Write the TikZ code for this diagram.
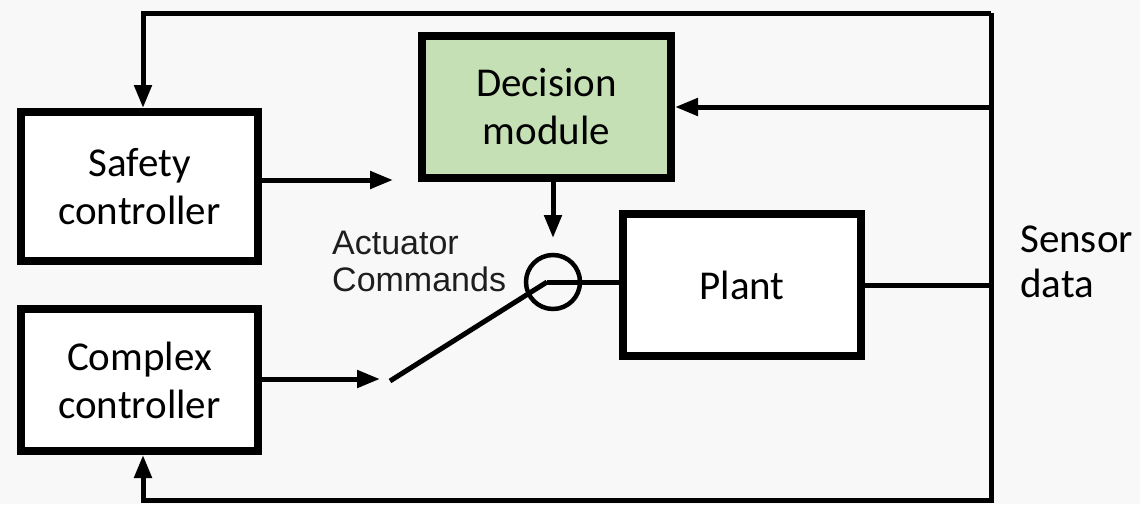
\documentclass[tikz,border=0pt]{standalone}
\usepackage{fontspec}
\setmainfont{Carlito}
\newfontfamily\arialfont{Liberation Sans}
\usetikzlibrary{arrows.meta}
\definecolor{bgcol}{RGB}{248,248,248}
\definecolor{modgreen}{RGB}{197,224,180}
\definecolor{labelgray}{RGB}{30,30,30}
\tikzset{
  block/.style={draw=black, line width=8pt, fill=white, align=center,
    font=\fontsize{41}{48}\selectfont},
  wire/.style={line width=5pt, line join=miter},
  flow/.style={wire, -{Triangle[length=23pt,width=17pt]}},
}
\begin{document}
\begin{tikzpicture}[x=1pt, y=-1pt]
  % canvas
  \fill[bgcol] (0,0) rectangle (1140,504);
  \useasboundingbox (0,0) rectangle (1140,504);

  % blocks
  \node[block, minimum width=237pt, minimum height=149pt] (safety) at (139.5,186.5) {Safety\\controller};
  \node[block, minimum width=237pt, minimum height=142pt] (complex) at (139.5,380) {Complex\\controller};
  \node[block, fill=modgreen, minimum width=249pt, minimum height=142pt] (decision) at (546.5,107) {Decision\\module};
  \node[block, minimum width=238pt, minimum height=142pt] (plant) at (742,285) {Plant};

  % switch
  \node[draw, line width=4.5pt, circle, minimum size=54pt, inner sep=0pt] (sw) at (553,282) {};
  \coordinate (pivot) at (547,282);
  \coordinate (swfree) at (390,381);
  \coordinate (safetyin) at (393,180);
  \coordinate (complexin) at (380,379);
  \coordinate (decout) at (553,238);

  % feedback loop corners
  \coordinate (tr) at (991,13);
  \coordinate (br) at (991,500);
  \coordinate (tl) at (143,13);
  \coordinate (bl) at (143,500);

  % labels
  \node[anchor=west, align=left, font=\arialfont\fontsize{34}{37}\selectfont, text=labelgray, inner sep=0pt] (act) at (332,261) {Actuator\\Commands};
  \node[anchor=west, align=left, font=\fontsize{41}{45}\selectfont, inner sep=0pt] (sensor) at (1020,262) {Sensor\\data};

  % controller outputs
  \draw[flow] (safety.east |- safetyin) -- (safetyin);
  \draw[flow] (complex.east |- complexin) -- (complexin);
  \draw[wire] (swfree) -- (pivot);
  \draw[wire] (pivot) -- (plant.west |- pivot);

  % decision module selects the switch position
  \draw[flow] (decision.south -| decout) -- (decout);

  % sensor data feedback
  \draw[wire] (plant.east) -- (plant.east -| tr);
  \draw[flow] (tr) -- (tl) -- (tl |- safety.north);
  \draw[flow] (tr |- decision.east) -- (decision.east);
  \draw[flow] (tr) -- (br) -- (bl) -- (bl |- complex.south);
\end{tikzpicture}
\end{document}
